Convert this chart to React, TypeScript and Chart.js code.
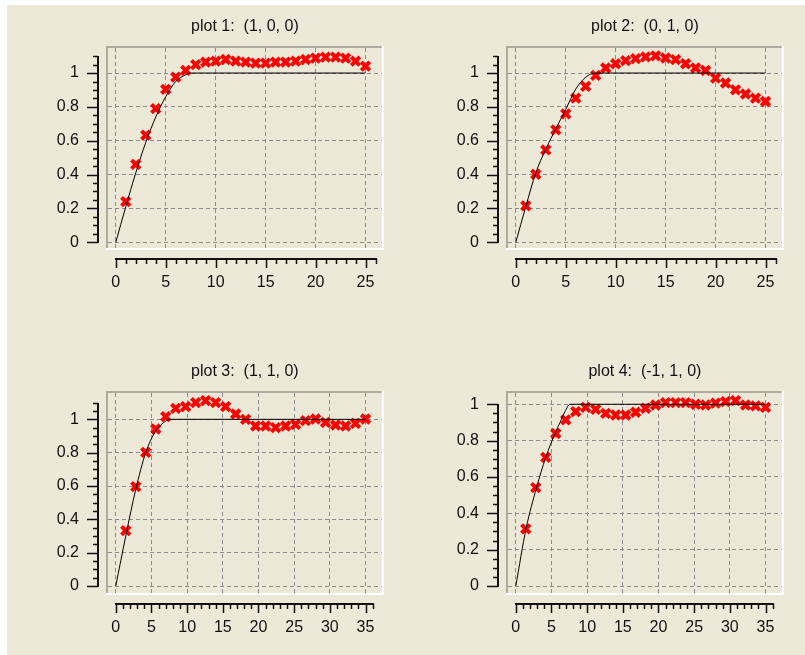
import React, { useEffect, useRef } from 'react';
import { Chart, registerables } from 'chart.js';

Chart.register(...registerables);

// ---------- data ----------
const titles = ['plot 1:  (1, 0, 0)', 'plot 2:  (0, 1, 0)', 'plot 3:  (1, 1, 0)', 'plot 4:  (-1, 1, 0)'];

const sampleX25 = [1, 2, 3, 4, 5, 6, 7, 8, 9, 10, 11, 12, 13, 14, 15, 16, 17, 18, 19, 20, 21, 22, 23, 24, 25];
const sampleX35 = [1.4, 2.8, 4.2, 5.6, 7, 8.4, 9.8, 11.2, 12.6, 14, 15.4, 16.8, 18.2, 19.6, 21, 22.4, 23.8, 25.2, 26.6, 28, 29.4, 30.8, 32.2, 33.6, 35];

const plot1Values = [0.24, 0.46, 0.633, 0.79, 0.904, 0.976, 1.016, 1.05, 1.065, 1.07, 1.08, 1.07, 1.065, 1.059, 1.059, 1.065, 1.065, 1.07, 1.08, 1.088, 1.094, 1.094, 1.088, 1.07, 1.041];
const plot2Values = [0.215, 0.402, 0.546, 0.664, 0.759, 0.852, 0.921, 0.986, 1.03, 1.055, 1.073, 1.085, 1.095, 1.102, 1.089, 1.079, 1.055, 1.03, 1.015, 0.97, 0.941, 0.901, 0.876, 0.852, 0.832];
const plot3Values = [0.332, 0.596, 0.802, 0.942, 1.016, 1.066, 1.076, 1.1, 1.112, 1.1, 1.076, 1.032, 1.0, 0.96, 0.96, 0.95, 0.96, 0.97, 0.992, 1.002, 0.982, 0.966, 0.96, 0.976, 1.002];
const plot4Values = [0.314, 0.541, 0.708, 0.839, 0.914, 0.96, 0.983, 0.972, 0.95, 0.941, 0.941, 0.956, 0.978, 0.996, 1.009, 1.009, 1.009, 1.0, 0.996, 1.006, 1.015, 1.02, 0.996, 0.991, 0.983];

// reference (model) curves
const ref1X = [0, 1, 2, 3, 4, 5, 6, 7, 7.5, 25];
const ref1Y = [0, 0.21, 0.41, 0.59, 0.74, 0.86, 0.95, 0.99, 1, 1];
const ref2X = [0, 1, 2, 3, 4, 5, 6, 7, 8, 25];
const ref2Y = [0, 0.21, 0.41, 0.55, 0.67, 0.785, 0.905, 0.975, 1, 1];
const ref3X = [0, 1.4, 2.8, 4.2, 5.6, 7, 7.5, 35];
const ref3Y = [0, 0.3, 0.58, 0.8, 0.93, 0.99, 1, 1];
const ref4X = [0, 1.45, 2.9, 4.2, 5.5, 6.2, 6.9, 7.6, 35];
const ref4Y = [0, 0.317, 0.54, 0.708, 0.84, 0.9, 0.96, 1, 1];

const xMajor25 = [0, 5, 10, 15, 20, 25];
const xMajor35 = [0, 5, 10, 15, 20, 25, 30, 35];
const yMajor = [0, 0.2, 0.4, 0.6, 0.8, 1];
const yTickLabels = ['0', '0.2', '0.4', '0.6', '0.8', '1'];

// ---------- styling ----------
const FONT = "'Liberation Sans', Arial, sans-serif";
const BEIGE = '#ECE9D8';

type Panel = {
  title: string;
  xs: number[];
  ys: number[];
  refX: number[];
  refY: number[];
  xMajor: number[];
  xRange: [number, number];
  yRange: [number, number];
  xAxisEnd: number;
  yAxisEnd: number;
  left: number;
  top: number;
};

const panels: Panel[] = [
  { title: titles[0], xs: sampleX25, ys: plot1Values, refX: ref1X, refY: ref1Y, xMajor: xMajor25, xRange: [-0.78, 26.63], yRange: [-0.034, 1.148], xAxisEnd: 26, yAxisEnd: 1.1, left: 0, top: 0 },
  { title: titles[1], xs: sampleX25, ys: plot2Values, refX: ref2X, refY: ref2Y, xMajor: xMajor25, xRange: [-0.78, 26.63], yRange: [-0.034, 1.148], xAxisEnd: 26, yAxisEnd: 1.1, left: 400, top: 0 },
  { title: titles[2], xs: sampleX35, ys: plot3Values, refX: ref3X, refY: ref3Y, xMajor: xMajor35, xRange: [-1.09, 37.28], yRange: [-0.042, 1.158], xAxisEnd: 36, yAxisEnd: 1.1, left: 0, top: 345 },
  { title: titles[3], xs: sampleX35, ys: plot4Values, refX: ref4X, refY: ref4Y, xMajor: xMajor35, xRange: [-1.09, 37.28], yRange: [-0.0385, 1.062], xAxisEnd: 36, yAxisEnd: 1.0, left: 400, top: 345 },
];

const isMultiple = (v: number, step: number) => Math.abs(v / step - Math.round(v / step)) < 1e-6;

function makeAxesPlugin(p: Panel) {
  return {
    id: 'oldAxes',
    afterDraw(chart: any) {
      const { ctx, chartArea: a, scales } = chart;
      const xs = scales.x;
      const ys = scales.y;
      ctx.save();
      // sunken frame
      ctx.fillStyle = '#aeab9e';
      ctx.fillRect(a.left - 2, a.top - 2, a.right - a.left + 2, 2);
      ctx.fillRect(a.left - 2, a.top - 2, 2, a.bottom - a.top + 2);
      ctx.fillStyle = '#ffffff';
      ctx.fillRect(a.left - 2, a.bottom, a.right - a.left + 4, 2);
      ctx.fillRect(a.right, a.top - 2, 2, a.bottom - a.top + 4);

      ctx.strokeStyle = '#111';
      // y axis
      const ax = Math.round(a.left - 10);
      const y0 = ys.getPixelForValue(0);
      const y1 = ys.getPixelForValue(p.yAxisEnd);
      ctx.lineWidth = 2;
      ctx.beginPath();
      ctx.moveTo(ax, Math.round(y0) + 1);
      ctx.lineTo(ax, Math.round(y1));
      ctx.stroke();
      ctx.lineWidth = 1.5;
      const ny = Math.round(p.yAxisEnd / 0.05);
      for (let i = 0; i <= ny; i++) {
        const v = i * 0.05;
        const py = Math.round(ys.getPixelForValue(v)) + 0.5;
        const len = isMultiple(v, 0.2) ? 11 : 5;
        ctx.beginPath();
        ctx.moveTo(ax, py);
        ctx.lineTo(ax - len, py);
        ctx.stroke();
      }
      // x axis
      const ay = Math.round(a.bottom + 11);
      const x0 = xs.getPixelForValue(0);
      const x1 = xs.getPixelForValue(p.xAxisEnd);
      ctx.lineWidth = 2;
      ctx.beginPath();
      ctx.moveTo(Math.round(x0) - 1, ay);
      ctx.lineTo(Math.round(x1) + 1, ay);
      ctx.stroke();
      ctx.lineWidth = 1.5;
      for (let i = 0; i <= p.xAxisEnd; i++) {
        const px = Math.round(xs.getPixelForValue(i)) + 0.5;
        const len = isMultiple(i, 5) ? 9 : 5;
        ctx.beginPath();
        ctx.moveTo(px, ay);
        ctx.lineTo(px, ay + len);
        ctx.stroke();
      }
      ctx.restore();
    },
  };
}

function PlotPanel({ p }: { p: Panel }) {
  const ref = useRef<HTMLCanvasElement | null>(null);
  useEffect(() => {
    if (!ref.current) return;
    const chart = new Chart(ref.current, {
      type: 'scatter',
      data: {
        datasets: [
          {
            type: 'line',
            data: p.refX.map((x, i) => ({ x, y: p.refY[i] })),
            borderColor: '#000',
            borderWidth: 1,
            pointRadius: 0,
            fill: false,
            cubicInterpolationMode: 'monotone',
            showLine: true,
          } as any,
          {
            type: 'scatter',
            data: p.xs.map((x, i) => ({ x, y: p.ys[i] })),
            pointStyle: 'crossRot',
            pointRadius: 6,
            pointBorderWidth: 4,
            borderColor: '#ff0000',
            backgroundColor: '#ff0000',
            showLine: false,
          } as any,
        ],
      },
      options: {
        responsive: false,
        animation: false,
        devicePixelRatio: 1,
        events: [],
        layout: { padding: { left: 48, right: 10, top: 0, bottom: 12 } },
        plugins: {
          legend: { display: false },
          tooltip: { enabled: false },
          title: {
            display: true,
            text: p.title,
            fullSize: false,
            color: '#111',
            font: { family: FONT, size: 16, weight: 'normal', lineHeight: 1.2 },
            padding: { top: 17, bottom: 11.8 },
          },
        },
        scales: {
          x: {
            type: 'linear',
            min: p.xRange[0],
            max: p.xRange[1],
            afterBuildTicks: (s: any) => { s.ticks = p.xMajor.map((v) => ({ value: v })); },
            afterFit: (s: any) => { s.height = 50; },
            ticks: {
              callback: (v: any) => String(v),
              padding: 24.5,
              color: '#111',
              font: { family: FONT, size: 16, lineHeight: 1.2 },
              maxRotation: 0,
              autoSkip: false,
            },
            grid: { color: '#8c8c8c', lineWidth: 1, drawTicks: false },
            border: { display: false, dash: [4, 3] },
          },
          y: {
            type: 'linear',
            min: p.yRange[0],
            max: p.yRange[1],
            afterBuildTicks: (s: any) => { s.ticks = yMajor.map((v) => ({ value: v })); },
            afterFit: (s: any) => { s.width = 60; },
            ticks: {
              callback: (v: any) => {
                const idx = yMajor.findIndex((m) => Math.abs(m - v) < 1e-9);
                return idx >= 0 ? yTickLabels[idx] : '';
              },
              padding: 29,
              color: '#111',
              font: { family: FONT, size: 16, lineHeight: 1.2 },
              autoSkip: false,
            },
            grid: { color: '#8c8c8c', lineWidth: 1, drawTicks: false },
            border: { display: false, dash: [4, 3] },
          },
        },
      } as any,
      plugins: [makeAxesPlugin(p)],
    });
    return () => chart.destroy();
  }, [p]);
  return (
    <canvas
      ref={ref}
      width={400}
      height={310}
      style={{ position: 'absolute', left: p.left, top: p.top, width: 400, height: 310 }}
    />
  );
}

export default function App() {
  return (
    <div style={{ position: 'fixed', left: 0, top: 0, width: 805, height: 655, background: '#ffffff', overflow: 'hidden' }}>
      <div style={{ position: 'absolute', left: 7, top: 5, width: 798, height: 650, background: BEIGE }} />
      {panels.map((p, i) => (
        <PlotPanel key={i} p={p} />
      ))}
    </div>
  );
}
